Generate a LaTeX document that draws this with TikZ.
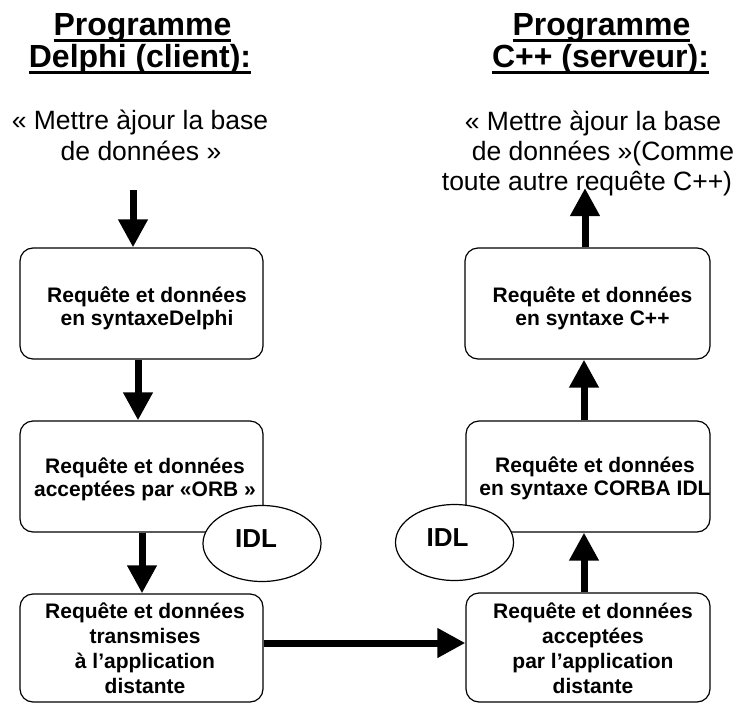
\documentclass[tikz,border=0pt]{standalone}
\usepackage{fontspec}
\setmainfont{Liberation Sans}
\usetikzlibrary{arrows.meta,shapes.geometric}

% underline drawn a fixed distance below the baseline
\newcommand\ulword[1]{\setbox0=\hbox{#1}\rlap{\vrule height -3.5pt depth 6.5pt width \wd0}\box0}

\begin{document}
\begin{tikzpicture}[x=1pt,y=-1pt,
  box/.style={draw, line width=1.2pt, rounded corners=13pt,
    minimum width=243pt, minimum height=111pt, inner sep=0pt},
  boxtext/.style={align=center, inner sep=0pt,
    font=\fontsize{21}{23}\selectfont\bfseries},
  longtext/.style={boxtext, font=\fontsize{21}{25}\selectfont\bfseries},
  title/.style={anchor=base, inner sep=0pt,
    font=\fontsize{32}{32}\selectfont\bfseries},
  subtitle/.style={anchor=base, inner sep=0pt,
    font=\fontsize{26.5}{30}\selectfont},
  idl/.style={ellipse, draw, fill=white, line width=1.2pt,
    minimum width=118pt, minimum height=76pt, inner sep=0pt,
    text depth=9pt, font=\fontsize{26}{26}\selectfont\bfseries},
  flow/.style={line width=7pt, -{Triangle[width=28pt,length=28pt]}}
]
\fill[white] (0,0) rectangle (736,704);
\useasboundingbox (0,0) rectangle (736,704);

% headings
\node[title] (tl1) at (142.5,35) {\ulword{Programme}};
\node[title] (tl2) at (140,67) {\ulword{Delphi (client):}};
\node[title] (tr1) at (601.5,35) {\ulword{Programme}};
\node[title] (tr2) at (600.5,67) {\ulword{C++ (serveur):}};

\node[subtitle] (sl1) at (140,129) {« Mettre àjour la base};
\node[subtitle] (sl2) at (141,160) {de données »};
\node[subtitle] (sr1) at (593,130) {« Mettre àjour la base};
\node[subtitle] (sr2) at (603,160) {de données »(Comme};
\node[subtitle] (sr3) at (587,190) {toute autre requête C++)};

% client side
\node[box] (b1) at (141.5,303.5) {};
\node[box] (b2) at (141.5,476.5) {};
\node[box, minimum height=108pt] (b3) at (141.5,648) {};
% server side
\node[box, minimum width=244pt, minimum height=109pt] (b4) at (588,647.5) {};
\node[box, minimum width=244pt] (b5) at (588,476.5) {};
\node[box, minimum width=245pt] (b6) at (587.5,303.5) {};

\node[boxtext] (t1) at (147,308) {Requête et données\\en syntaxeDelphi};
\node[boxtext] (t2) at (145,479.5) {Requête et données\\acceptées par «ORB »};
\node[longtext] (t3) at (145,648) {Requête et données\\transmises\\à l’application\\distante};
\node[longtext] (t4) at (593,648) {Requête et données\\acceptées\\par l’application\\distante};
\node[boxtext] (t5) at (595,478) {Requête et données\\en syntaxe CORBA IDL};
\node[boxtext] (t6) at (592.5,308) {Requête et données\\en syntaxe C++};

% connectors
\coordinate (in) at (133,190);
\coordinate (out) at (585,188);
\draw[flow] (in) -- (in |- b1.north);
\draw[flow] ([xshift=-3.5pt]b1.south) -- ([xshift=-3.5pt]b1.south |- b2.north);
\draw[flow] ([xshift=0.5pt]b2.south) -- ([xshift=0.5pt]b2.south |- b3.north);
\draw[flow] ([yshift=5pt]b3.east) -- ([yshift=5pt]b3.east -| b4.west);
\draw[flow] ([xshift=-4pt]b4.north) -- ([xshift=-4pt]b4.north |- b5.south);
\draw[flow] ([xshift=-4pt]b5.north) -- ([xshift=-4pt]b5.north |- b6.south);
\draw[flow] (out |- b6.north) -- (out);

% interface ellipses
\node[idl] (idl1) at (262,543.5) {IDL\hspace*{12pt}};
\node[idl] (idl2) at (454.5,542.5) {IDL\hspace*{14pt}};
\end{tikzpicture}
\end{document}
